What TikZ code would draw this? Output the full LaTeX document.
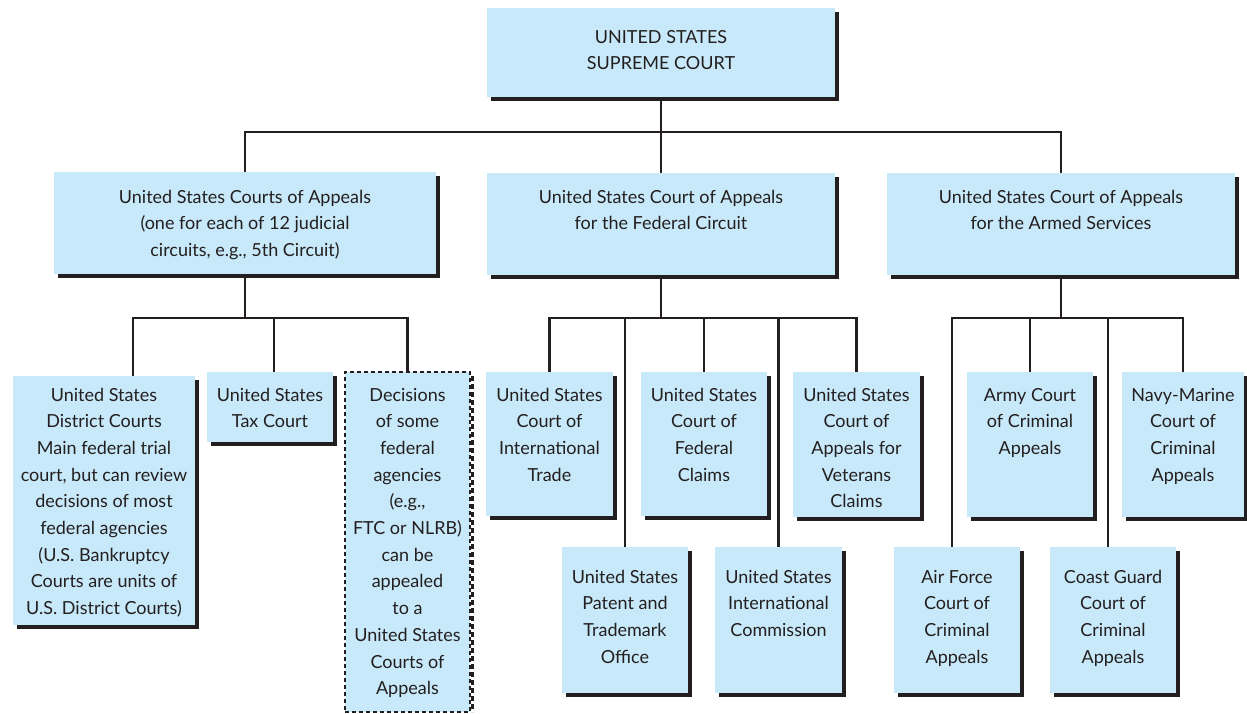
\documentclass[tikz,border=0pt]{standalone}
\usepackage{fontspec}
\setmainfont{Lato}
\usetikzlibrary{shadows}
\definecolor{boxc}{RGB}{200,233,249}
\definecolor{linec}{RGB}{35,31,32}
% #1 style, #2 name, #3 x1, #4 y1, #5 x2, #6 y2, #7 first baseline offset, #8 text
\newcommand\court[8][shadowed]{%
  \node[courtbox,#1] (#2) at ({(#3+#5)/2},{(#4+#6)/2})
  {\begin{minipage}[c][\dimexpr#6pt-#4pt\relax][t]{\dimexpr#5pt-#3pt\relax}%
   \centering\rule{0pt}{#7pt}#8\end{minipage}};}
\begin{document}
\begin{tikzpicture}[x=1pt,y=-1pt,
  courtbox/.style={fill=boxc, inner sep=0pt, outer sep=0pt,
    font=\fontsize{18}{26.7}\selectfont, text=linec},
  shadowed/.style={drop shadow={shadow xshift=4pt, shadow yshift=-4pt,
    fill=linec, opacity=1}},
  conn/.style={draw=linec, line width=2.4pt},
  decbox/.style={draw=linec, line width=1.4pt, dash pattern=on 4pt off 3pt},
  decshadow/.style={draw=linec, line width=3.5pt, dash pattern=on 5pt off 3pt}]
\useasboundingbox (0,0) rectangle (1247,713);

% boxes
\court{top}{487}{8}{835}{97}{35}{UNITED STATES\\SUPREME COURT}
\court{l2a}{54}{172}{436}{274}{31}{United States Courts of Appeals\\(one for each of 12 judicial\\circuits, e.g., 5th Circuit)}
\court{l2b}{487}{173}{835}{275}{30}{United States Court of Appeals\\for the Federal Circuit}
\court{l2c}{887}{173}{1235}{275}{30}{United States Court of Appeals\\for the Armed Services}

\court{dist}{13}{376}{195}{625}{25}{United States\\District Courts\\Main federal trial\\court, but can review\\decisions of most\\federal agencies\\(U.S. Bankruptcy\\Courts are units of\\U.S. District Courts)}
\court{tax}{207}{372}{333}{442}{29}{United States\\Tax Court}
\court[decbox]{dec}{345}{372}{470}{712}{29}{Decisions\\of some\\federal\\agencies\\(e.g.,\\FTC or NLRB)\\can be\\appealed\\to a\\United States\\Courts of\\Appeals}
\draw[decshadow] ([xshift=2.5pt,yshift=-4pt]dec.north east) -- ([xshift=2.5pt]dec.south east);

\court{trade}{486}{372}{613}{516}{29}{United States\\Court of\\International\\Trade}
\court{claims}{641}{372}{767}{516}{29}{United States\\Court of\\Federal\\Claims}
\court{vet}{793}{372}{920}{517}{29}{United States\\Court of\\Appeals for\\Veterans\\Claims}
\court{patent}{562}{547}{688}{693}{36}{United States\\Patent and\\Trademark\\Office}
\court{comm}{715}{547}{842}{693}{36}{United States\\International\\Commission}

\court{army}{967}{372}{1093}{517}{29}{Army Court\\of Criminal\\Appeals}
\court{navy}{1122}{372}{1244}{517}{29}{Navy-Marine\\Court of\\Criminal\\Appeals}
\court{air}{894}{547}{1020}{693}{36}{Air Force\\Court of\\Criminal\\Appeals}
\court{coast}{1050}{547}{1176}{693}{36}{Coast Guard\\Court of\\Criminal\\Appeals}

% bus junctions
\coordinate (b1) at (l2b.north |- 0,132);
\coordinate (b2) at (l2a.south |- 0,318);
\coordinate (b3) at (l2b.south |- 0,318);
\coordinate (b4) at (l2c.south |- 0,318);

% level 1 -> level 2
\draw[conn] (top.south) -- (l2b.north);
\draw[conn] (l2a.north) |- (b1) -| (l2c.north);

% courts of appeals group
\draw[conn] (l2a.south) -- (b2);
\draw[conn] (dist.north -| 133,0) |- (b2) -| (dec.north);
\draw[conn] (tax.north -| 274,0) -- (b2 -| 274,0);

% federal circuit group
\draw[conn] (l2b.south) -- (b3);
\draw[conn] (trade.north) |- (b3) -| (vet.north);
\draw[conn] (patent.north) -- (patent.north |- b3);
\draw[conn] (claims.north) -- (claims.north |- b3);
\draw[conn] (comm.north) -- (comm.north |- b3);

% armed services group
\draw[conn] (l2c.south) -- (b4);
\draw[conn] (air.north -| 952,0) |- (b4) -| (navy.north);
\draw[conn] (army.north) -- (army.north |- b4);
\draw[conn] (coast.north -| 1108,0) -- (b4 -| 1108,0);
\end{tikzpicture}
\end{document}
